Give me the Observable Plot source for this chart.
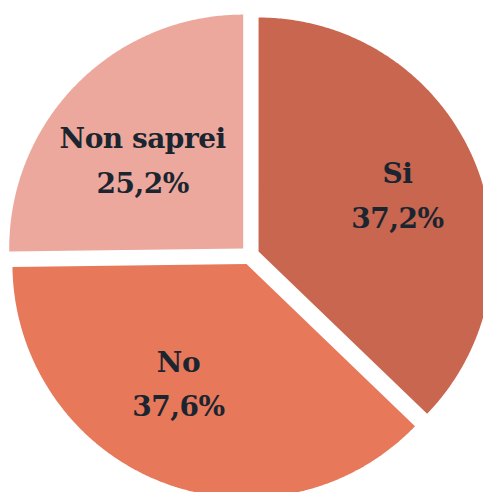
<!DOCTYPE html>
<html>
<head>
<meta charset="utf-8">
<script src="https://cdn.jsdelivr.net/npm/d3@7"></script>
<script src="https://cdn.jsdelivr.net/npm/@observablehq/plot@0.6"></script>
<style>
  html, body { margin: 0; padding: 0; background: #ffffff; }
  #chart svg { display: block; }
  #chart text { letter-spacing: -0.5px; }
</style>
</head>
<body>
<div id="chart"></div>
<script>
// Data
const categories = ["Si", "No", "Non saprei"];
const values = [37.2, 37.6, 25.2];
const valueLabels = ["37,2%", "37,6%", "25,2%"];
const colors = ["#c9664f", "#e8785a", "#eca89c"];

// Layout constants
const W = 483, H = 492;
const cx = 249.4, cy = 254.7, R = 234;
const explode = 9.4 / R;
const labelRadius = [0.64, 0.59, 0.57];   // fraction of radius, per slice
const labelTurn = [1.1, 7.9, -3.6];       // degrees from slice bisector

const rows = categories.map((c, i) => ({category: c, value: values[i], label: valueLabels[i]}));
const arcs = d3.pie().sort(null).value(d => d.value)(rows);

const pts = [];
const labelRows = [];
arcs.forEach((a, i) => {
  const mid = (a.startAngle + a.endAngle) / 2;
  const ox = explode * Math.sin(mid), oy = explode * Math.cos(mid);
  pts.push({category: a.data.category, x: ox, y: oy});
  const steps = Math.max(2, Math.ceil((a.endAngle - a.startAngle) / (Math.PI / 360)));
  for (let k = 0; k <= steps; k++) {
    const t = a.startAngle + (a.endAngle - a.startAngle) * k / steps;
    pts.push({category: a.data.category, x: ox + Math.sin(t), y: oy + Math.cos(t)});
  }
  const la = mid + labelTurn[i] * Math.PI / 180;
  labelRows.push({
    category: a.data.category,
    text: a.data.category + "\n" + a.data.label,
    x: ox + labelRadius[i] * Math.sin(la),
    y: oy + labelRadius[i] * Math.cos(la)
  });
});

const chart = Plot.plot({
  width: W,
  height: H,
  margin: 0,
  style: {background: "#ffffff"},
  x: {domain: [-cx / R, (W - cx) / R], axis: null},
  y: {domain: [-(H - cy) / R, cy / R], axis: null},
  color: {domain: categories, range: colors},
  marks: [
    Plot.line(pts, {x: "x", y: "y", z: "category", fill: "category", stroke: "none", curve: "linear-closed"}),
    Plot.text(labelRows, {
      x: "x", y: "y", text: "text", dy: -4.5,
      fontSize: 28, fontWeight: "bold", fontFamily: "DejaVu Serif",
      fill: "#1b2530", lineHeight: 1.6
    })
  ]
});
document.getElementById("chart").appendChild(chart);
</script>
</body>
</html>
